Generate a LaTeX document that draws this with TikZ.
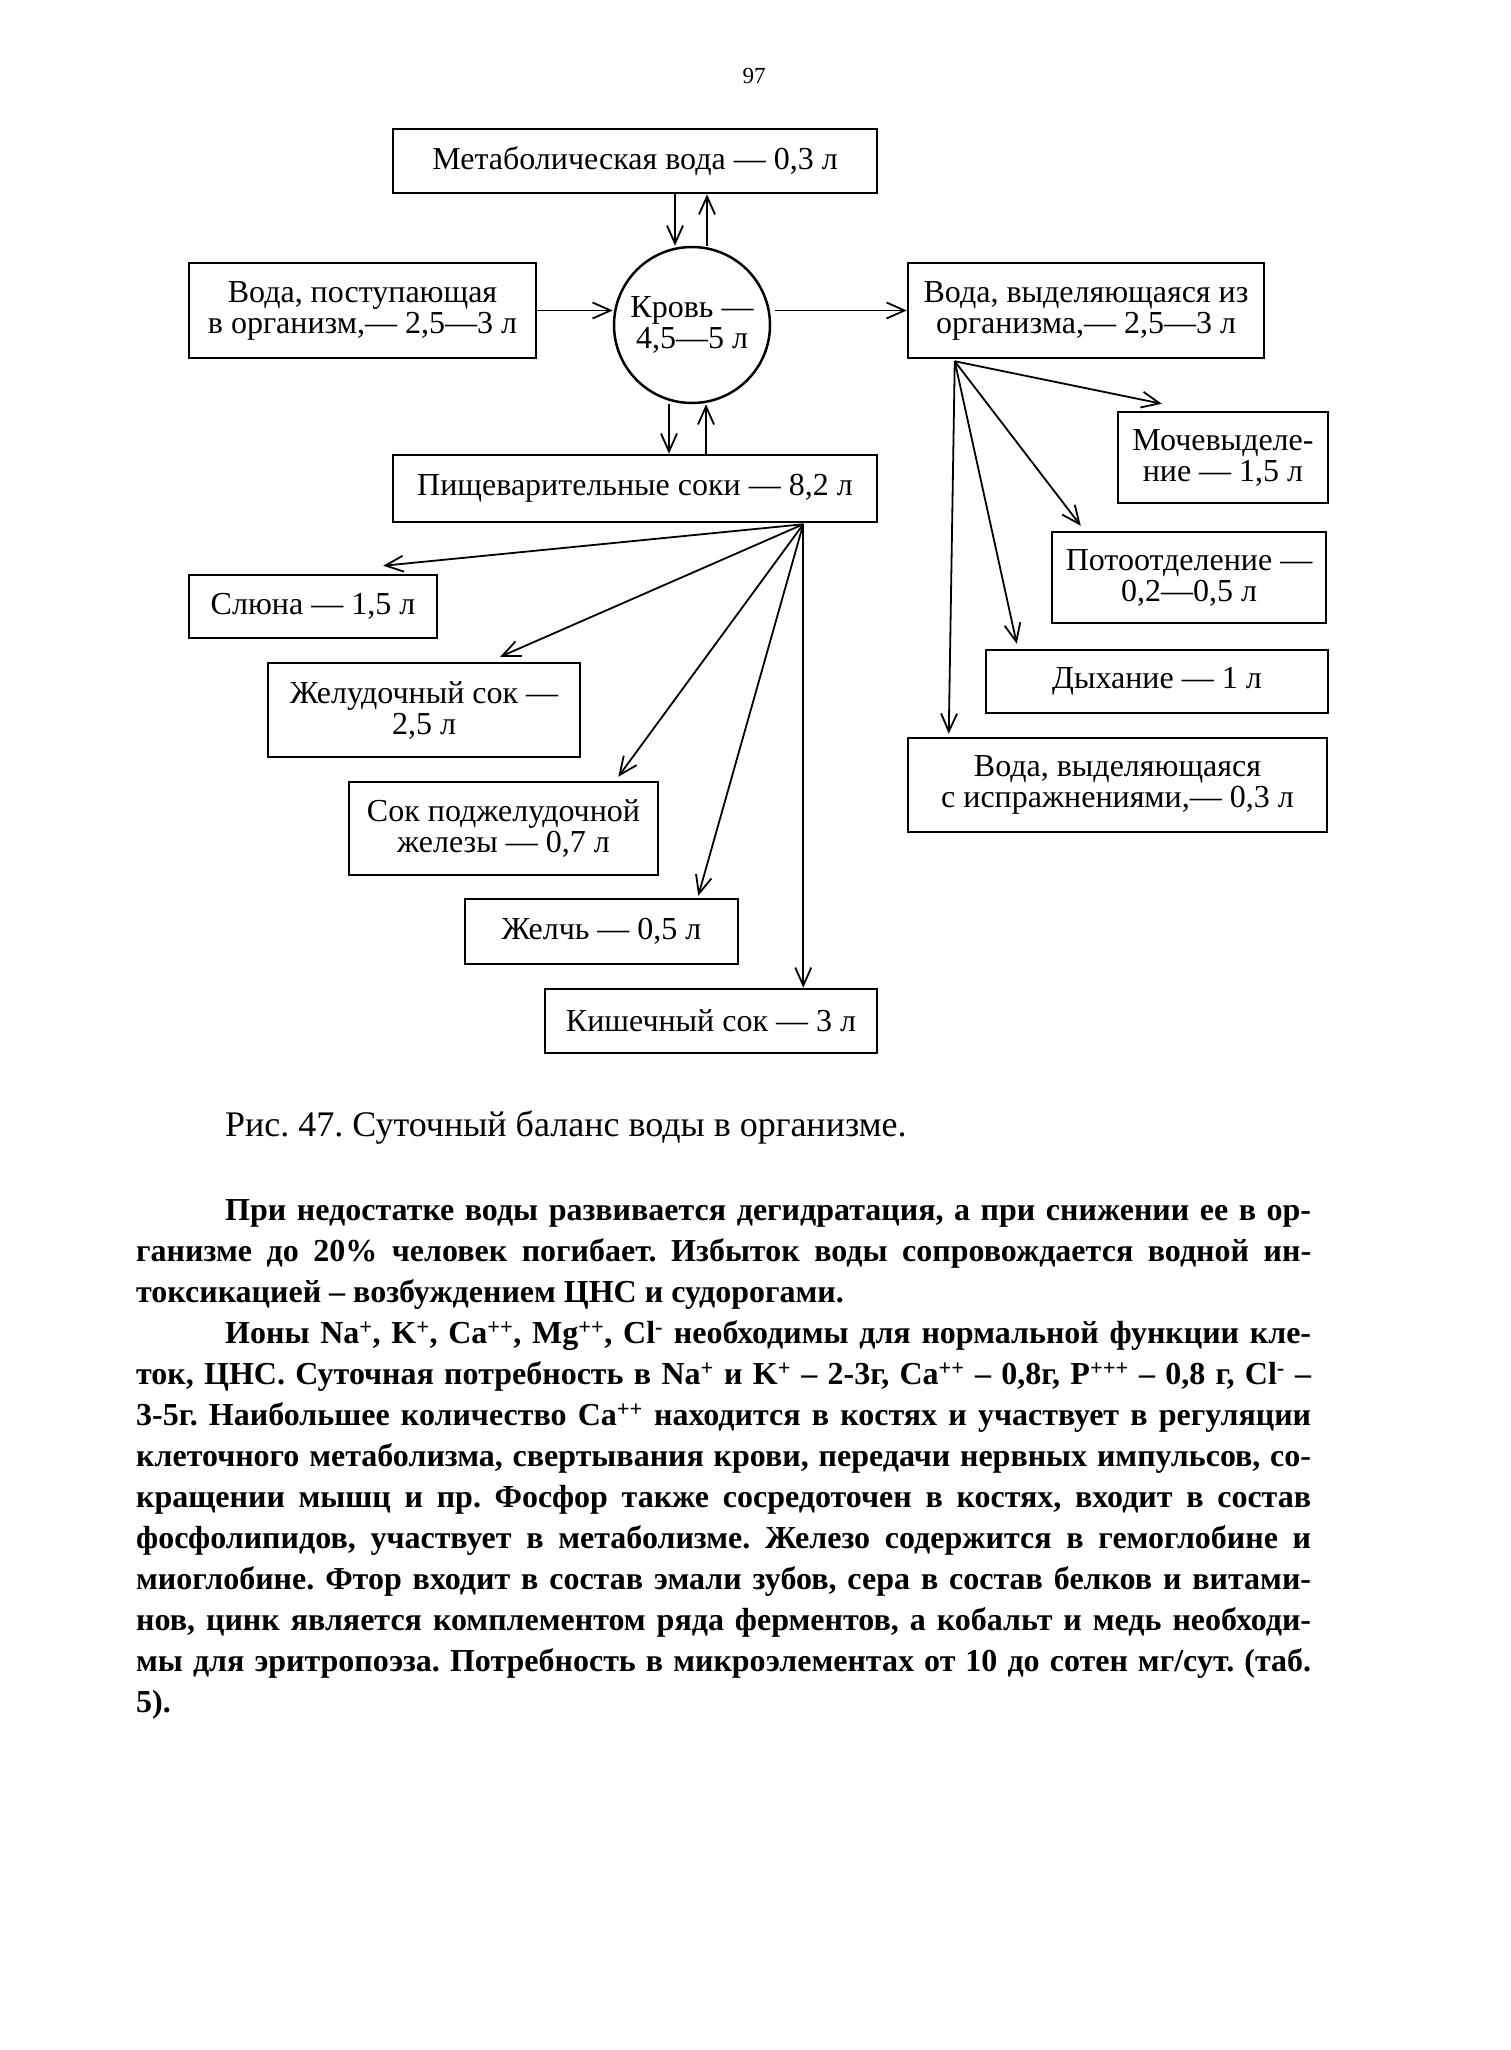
\documentclass[tikz,border=0pt]{standalone}
\usepackage{fontspec}
\setmainfont{Liberation Serif}
\usetikzlibrary{arrows.meta,calc}

\newcommand{\dfont}{\fontsize{32}{31}\selectfont}
\hyphenpenalty=10000
\exhyphenpenalty=10000
\tolerance=9999
\frenchspacing

\begin{document}
\begin{tikzpicture}[x=1pt,y=-1pt,
        blk/.style={draw, line width=2.5pt, inner sep=0pt, align=center, font=\dfont},
        arr/.style={line width=1.8pt, -{Straight Barb[length=18pt,width=16pt]}}]
        \useasboundingbox (0,0) rectangle (1510,2050);
        \fill[white] (0,0) rectangle (1510,2050);
        \node (num) at (754,76) {\fontsize{23}{26}\selectfont 97};
        % верх схемы
        \node[blk, minimum width=484pt, minimum height=64pt] (meta) at (635,161) {Метаболическая вода — 0,3 л};
        \node[blk, circle, minimum size=156pt] (krov) at (692,325) {Кровь —\\4,5—5 л};
        \node[blk, minimum width=347pt, minimum height=95pt] (vin) at (362.5,310.5) {Вода, поступающая\\в организм,— 2,5—3 л};
        \node[blk, minimum width=356pt, minimum height=95pt] (vout) at (1086,310.5) {Вода, выделяющаяся из\\организма,— 2,5—3 л};
        \node[blk, minimum width=484pt, minimum height=67pt] (pish) at (635,488.5) {Пищеварительные соки — 8,2 л};
        % правая колонка
        \node[blk, minimum width=210pt, minimum height=91pt] (moch) at (1223,457.5) {Мочевыделе-\\ние — 1,5 л};
        \node[blk, minimum width=274pt, minimum height=91pt] (pot) at (1189,577.5) {Потоотделение —\\0,2—0,5 л};
        \node[blk, minimum width=342pt, minimum height=63pt] (dyh) at (1157,681.5) {Дыхание — 1 л};
        \node[blk, minimum width=419pt, minimum height=94pt] (isp) at (1117.5,785) {Вода, выделяющаяся\\с испражнениями,— 0,3 л};
        % соки
        \node[blk, minimum width=248pt, minimum height=63pt] (slu) at (313,606.5) {Слюна — 1,5 л};
        \node[blk, minimum width=312pt, minimum height=94pt] (zhel) at (424,710) {Желудочный сок —\\2,5 л};
        \node[blk, minimum width=309pt, minimum height=93pt] (podzh) at (503.5,828.5) {Сок поджелудочной\\железы — 0,7 л};
        \node[blk, minimum width=273pt, minimum height=65pt] (zhelch) at (601.5,931.5) {Желчь — 0,5 л};
        \node[blk, minimum width=332pt, minimum height=64pt] (kish) at (711,1021) {Кишечный сок — 3 л};

        \draw[arr] ($(meta.south)+(40,0)$) -- ($(krov.north)+(-17,0)$);
        \draw[arr] ($(krov.north)+(15,0)$) -- ($(meta.south)+(72,0)$);
        \draw[arr] ($(krov.south)+(-23,0)$) -- ($(pish.north)+(34,0)$);
        \draw[arr] ($(pish.north)+(71,0)$) -- ($(krov.south)+(14,0)$);
        \draw[arr] (vin.east) -- (vin.east -| krov.west);
        \draw[arr] ($(vin.east -| krov.east)+(4,0)$) -- (vout.west);

        \coordinate (pf) at ($(pish.south east)+(-75,1)$);
        \draw[arr] (pf) -- ($(slu.north east)+(-55,-8)$);
        \draw[arr] (pf) -- ($(zhel.north east)+(-81,-5)$);
        \draw[arr] (pf) -- ($(podzh.north east)+(-41,-4)$);
        \draw[arr] (pf) -- ($(zhelch.north east)+(-41,-2)$);
        \draw[arr] (pf) -- (pf |- kish.north);

        \coordinate (vf) at ($(vout.south west)+(48,2)$);
        \draw[arr] (vf) -- ($(moch.north west)+(45,-7)$);
        \draw[arr] (vf) -- ($(pot.north west)+(30,-5)$);
        \draw[arr] (vf) -- ($(dyh.north west)+(32,-5)$);
        \draw[arr] (vf) -- ($(isp.north west)+(42,-3)$);

        % подпись и текст
        \node[anchor=west, inner sep=0pt, font=\fontsize{36}{41}\selectfont] (cap) at (225,1127) {Рис. 47. Суточный баланс воды в организме.};
        \node[anchor=north west, inner sep=0pt, text width=1175pt, align=justify, font=\bfseries\fontsize{32}{41}\selectfont] (txt) at (136,1199)
            {\hspace*{89pt}При недостатке воды развивается дегидратация, а при снижении ее в ор-\linebreak
            ганизме до 20\% человек погибает. Избыток воды сопровождается водной ин-\linebreak
            токсикацией – возбуждением ЦНС и судорогами.\par
            \hspace*{89pt}Ионы Na\textsuperscript{+}, K\textsuperscript{+}, Ca\textsuperscript{++}, Mg\textsuperscript{++}, Cl\textsuperscript{-} необходимы для нормальной функции кле-\linebreak
            ток, ЦНС. Суточная потребность в Na\textsuperscript{+} и K\textsuperscript{+} – 2-3г, Ca\textsuperscript{++} – 0,8г, P\textsuperscript{+++} – 0,8 г, Cl\textsuperscript{-} –\linebreak
            3-5г. Наибольшее количество Ca\textsuperscript{++} находится в костях и участвует в регуляции\linebreak
            клеточного метаболизма, свертывания крови, передачи нервных импульсов, со-\linebreak
            кращении мышц и пр. Фосфор также сосредоточен в костях, входит в состав\linebreak
            фосфолипидов, участвует в метаболизме. Железо содержится в гемоглобине и\linebreak
            миоглобине. Фтор входит в состав эмали зубов, сера в состав белков и витами-\linebreak
            нов, цинк является комплементом ряда ферментов, а кобальт и медь необходи-\linebreak
            мы для эритропоэза. Потребность в микроэлементах от 10 до сотен мг/сут. (таб.\linebreak
            5).};
    \end{tikzpicture}
\end{document}
